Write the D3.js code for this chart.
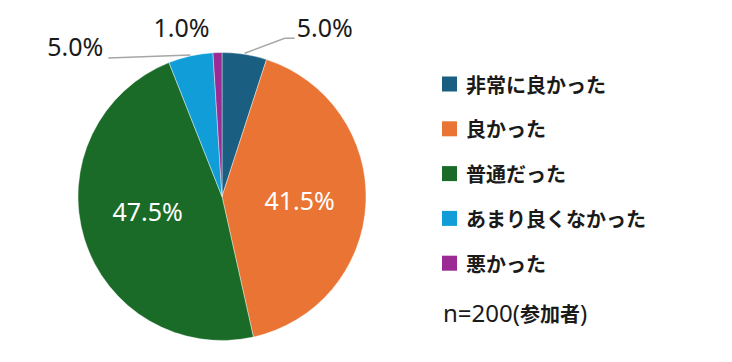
<!DOCTYPE html>
<html lang="ja">
<head>
<meta charset="UTF-8" />
<script src="https://d3js.org/d3.v7.min.js"></script>
<style>
  body { margin: 0; background: #fff; }
  svg { display: block; }
</style>
</head>
<body>
<svg width="732" height="362"></svg>
<script>
// data
var categories = ["非常に良かった", "良かった", "普通だった", "あまり良くなかった", "悪かった"];
var values = [5.0, 41.5, 47.5, 5.0, 1.0];
var colors = ["#1a5e82", "#ea7434", "#1a6b27", "#119ed8", "#9b2a94"];
var noteLatin = "n=200(", noteCjk = "参加者", noteEnd = ")";

var svg = d3.select("svg");
var cx = 222, cy = 196.5, R = 144;

var pie = d3.pie().sort(null).value(function(d){ return d; });
var arc = d3.arc().innerRadius(0).outerRadius(R);
var labelArc = d3.arc().innerRadius(R * 0.54).outerRadius(R * 0.54);

var g = svg.append("g").attr("transform", "translate(" + cx + "," + cy + ")");
var arcs = pie(values);

g.selectAll("path")
  .data(arcs)
  .enter()
  .append("path")
  .attr("d", arc)
  .attr("fill", function(d, i){ return colors[i]; })
  .attr("stroke", "#fff")
  .attr("stroke-width", 0.4);

function fmt(v){ return v.toFixed(1) + "%"; }

// point on the rim at the middle of a slice
function rim(d, r){
  var a = (d.startAngle + d.endAngle) / 2;
  return [r * Math.sin(a), -r * Math.cos(a)];
}

var pctFont = "'Noto Sans', sans-serif", pctSize = "25px";

// inside labels for the two big slices
[1, 2].forEach(function(i){
  var c = labelArc.centroid(arcs[i]);
  var dy = i == 2 ? -8 : 0;
  g.append("text")
    .attr("x", c[0]).attr("y", c[1] + dy)
    .attr("text-anchor", "middle")
    .attr("dominant-baseline", "central")
    .attr("fill", "#fff")
    .style("font-family", pctFont)
    .style("font-size", pctSize)
    .text(fmt(values[i]));
});

var lineColor = "#a6a6a6";
var outStyle = function(t){
  t.attr("fill", "#1a1a1a")
   .style("font-family", pctFont)
   .style("font-size", pctSize);
};

// slice 0: leader to the upper right
var p0 = rim(arcs[0], R + 1);
var k0 = [p0[0] + 40, p0[1] - 15];
g.append("polyline")
  .attr("points", [p0, k0, [k0[0] + 10, k0[1]]].map(function(p){ return p.join(","); }).join(" "))
  .attr("fill", "none").attr("stroke", lineColor).attr("stroke-width", 1.5);
g.append("text").attr("x", k0[0] + 12).attr("y", k0[1] - 1).call(outStyle).text(fmt(values[0]));

// slice 3: leader to the left
var p3 = rim(arcs[3], R + 1);
var k3 = [p3[0] - 82, p3[1] + 3];
g.append("line")
  .attr("x1", p3[0]).attr("y1", p3[1]).attr("x2", k3[0]).attr("y2", k3[1])
  .attr("stroke", lineColor).attr("stroke-width", 1.5);
g.append("text").attr("x", k3[0] - 5).attr("y", k3[1] - 2).attr("text-anchor", "end").call(outStyle).text(fmt(values[3]));

// slice 4: label above
var p4 = rim(arcs[4], R);
g.append("text").attr("x", p4[0] - 36).attr("y", p4[1] - 16).attr("text-anchor", "middle").call(outStyle).text(fmt(values[4]));

// legend
var lg = svg.append("g").attr("transform", "translate(442,84)");
var rows = lg.selectAll("g.row")
  .data(categories)
  .enter()
  .append("g")
  .attr("class", "row")
  .attr("transform", function(d, i){ return "translate(0," + (i * 44.8) + ")"; });
rows.append("rect")
  .attr("x", 0).attr("y", -7.5).attr("width", 15).attr("height", 15)
  .attr("fill", function(d, i){ return colors[i]; });
rows.append("text")
  .attr("x", 24).attr("y", 0)
  .attr("dominant-baseline", "central")
  .attr("fill", "#1a1a1a")
  .style("font-family", "'Noto Sans CJK JP', sans-serif")
  .style("font-size", "20px")
  .style("font-weight", "bold")
  .text(function(d){ return d; });

var nt = lg.append("text")
  .attr("x", 1).attr("y", 5 * 44.8 + 14)
  .attr("fill", "#1a1a1a")
  .style("font-family", "'Noto Sans', sans-serif")
  .style("font-size", "24px");
nt.append("tspan").text(noteLatin);
nt.append("tspan")
  .style("font-family", "'Noto Sans CJK JP', sans-serif")
  .style("font-size", "20px")
  .style("font-weight", "bold")
  .text(noteCjk);
nt.append("tspan").text(noteEnd);
</script>
</body>
</html>
